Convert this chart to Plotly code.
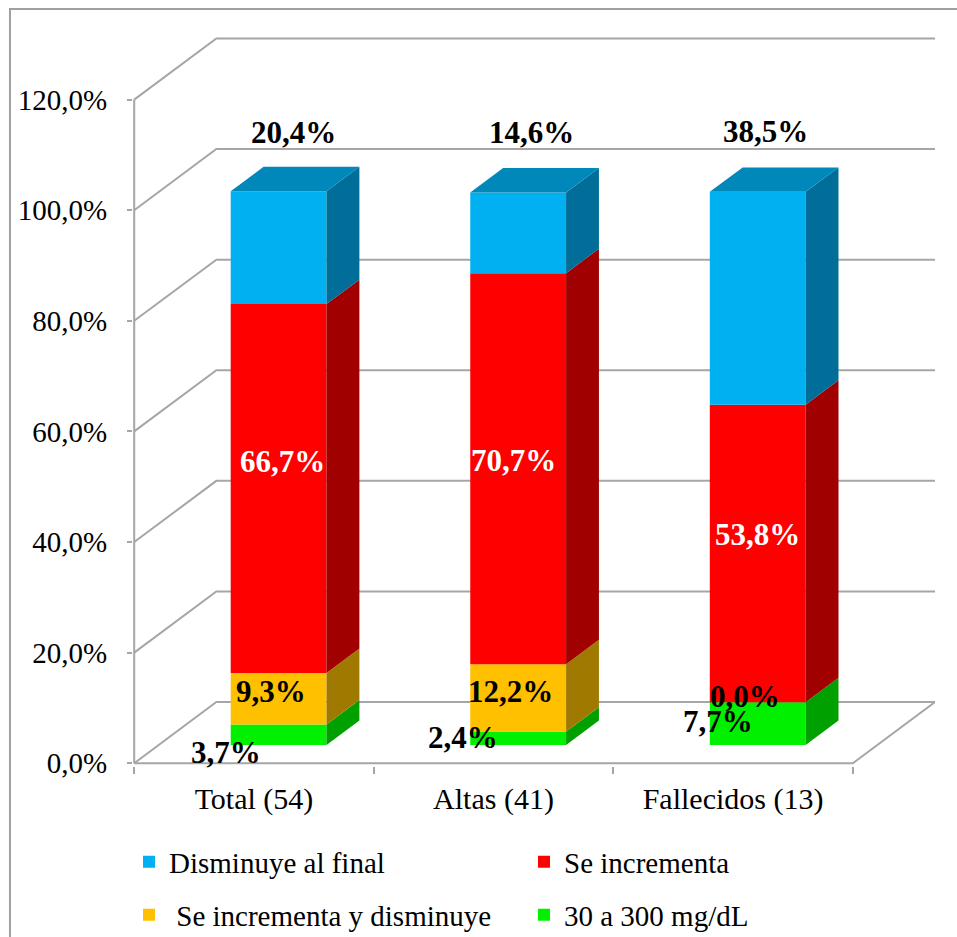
import plotly.graph_objects as go

# ---------------- data ----------------
categories = ["Total (54)", "Altas (41)", "Fallecidos (13)"]
series_names = ["30 a 300 mg/dL", " Se incrementa y disminuye", "Se incrementa", "Disminuye al final"]
green_vals = [3.7, 2.4, 7.7]
yellow_vals = [9.3, 12.2, 0.0]
red_vals = [66.7, 70.7, 53.8]
blue_vals = [20.4, 14.6, 38.5]
y_ticks = [0, 20, 40, 60, 80, 100, 120]
y_tick_text = [f"{v:.1f}".replace(".", ",") + "%" for v in y_ticks]

# ---------------- styles ----------------
front_cols = ["#00F000", "#FFC000", "#FF0000", "#00B0F0"]
side_cols = ["#00A000", "#A07A00", "#A00000", "#006E98"]
top_cols = ["#00C800", "#C89800", "#C80000", "#0088BA"]
label_cols = ["black", "black", "white", "black"]

# label placement (offset from category centre, y in axis units)
label_dx = [[-0.116, -0.129, -0.062], [0.071, 0.071, 0.051],
            [0.117, 0.084, 0.101], [0.163, 0.159, 0.134]]
label_y = [[2.0, 4.7, 7.5], [12.9, 12.9, 12.0],
           [54.5, 54.8, 41.3], [114.0, 114.0, 114.3]]

DX = 0.343   # depth projection in x units
DY = 11.06   # depth projection in y units
Z0, Z1 = 0.3, 0.7   # bar depth extent
W = 0.4      # bar width
GRID = "#A6A6A6"
FONT = "Liberation Serif, Times New Roman, serif"

series = [green_vals, yellow_vals, red_vals, blue_vals]

fig = go.Figure()

# ---------------- walls & grid ----------------
gx, gy = [], []
for v in y_ticks:
    gx += [-0.5, -0.5 + DX, 2.5 + DX, None]
    gy += [v, v + DY, v + DY, None]
# floor front and right edges
gx += [-0.5, 2.5, 2.5 + DX, None]
gy += [0, 0, DY, None]
# front vertical axis line
gx += [-0.5, -0.5, None]
gy += [0, max(y_ticks), None]
fig.add_trace(go.Scatter(x=gx, y=gy, mode="lines", line=dict(color=GRID, width=2),
                         hoverinfo="skip", showlegend=False))

# ---------------- bars ----------------
for s, vals in enumerate(series):
    fx, fy, sx, sy, tx, ty = [], [], [], [], [], []
    for i in range(len(categories)):
        base = sum(series[k][i] for k in range(s))
        top = base + vals[i]
        if vals[i] <= 0:
            continue
        xl, xr = i - W / 2, i + W / 2
        # front face
        fx += [xl + Z0 * DX, xr + Z0 * DX, xr + Z0 * DX, xl + Z0 * DX, xl + Z0 * DX, None]
        fy += [base + Z0 * DY, base + Z0 * DY, top + Z0 * DY, top + Z0 * DY, base + Z0 * DY, None]
        # side face
        sx += [xr + Z0 * DX, xr + Z1 * DX, xr + Z1 * DX, xr + Z0 * DX, xr + Z0 * DX, None]
        sy += [base + Z0 * DY, base + Z1 * DY, top + Z1 * DY, top + Z0 * DY, base + Z0 * DY, None]
        # top face for top-most visible segment
        above = sum(series[k][i] for k in range(s + 1, len(series)))
        if above <= 0:
            tx += [xl + Z0 * DX, xr + Z0 * DX, xr + Z1 * DX, xl + Z1 * DX, xl + Z0 * DX, None]
            ty += [top + Z0 * DY, top + Z0 * DY, top + Z1 * DY, top + Z1 * DY, top + Z0 * DY, None]
    for px, py, col in [(fx, fy, front_cols[s]), (sx, sy, side_cols[s]), (tx, ty, top_cols[s])]:
        if px:
            fig.add_trace(go.Scatter(x=px, y=py, mode="lines", fill="toself", fillcolor=col,
                                     line=dict(width=0, color=col), hoverinfo="skip",
                                     showlegend=False))

# ---------------- data labels ----------------
for s, vals in enumerate(series):
    for i, v in enumerate(vals):
        txt = f"{v:.1f}".replace(".", ",") + "%"
        fig.add_annotation(x=i + label_dx[s][i], y=label_y[s][i], text=f"<b>{txt}</b>",
                           showarrow=False, xanchor="center", yanchor="middle",
                           font=dict(family=FONT, size=31, color=label_cols[s]))

# ---------------- legend entries ----------------
legend_order = [(3, "legend"), (2, "legend"), (1, "legend2"), (0, "legend2")]
for s, lg in legend_order:
    fig.add_trace(go.Scatter(x=[None], y=[None], mode="markers", name=series_names[s],
                             marker=dict(symbol="square", size=12, color=front_cols[s]),
                             legend=lg, showlegend=True))

legend_common = dict(orientation="h", xanchor="left", yanchor="middle",
                     xref="container", yref="container",
                     entrywidth=350, entrywidthmode="pixels", itemwidth=30,
                     font=dict(family=FONT, size=29, color="black"),
                     bgcolor="rgba(0,0,0,0)", tracegroupgap=0)

fig.update_layout(
    width=957, height=937,
    margin=dict(l=133, r=22, t=36, b=171, autoexpand=False),
    paper_bgcolor="white", plot_bgcolor="white",
    separators=",.",
    showlegend=True,
    legend=dict(x=129 / 957, y=1 - 862 / 937, **legend_common),
    legend2=dict(x=129 / 957, y=1 - 915 / 937, **legend_common),
    xaxis=dict(range=[-0.505, 2.5 + DX], tickvals=[0, 1, 2], ticktext=categories,
               showgrid=False, zeroline=False, showline=False, ticks="",
               ticklabelstandoff=12,
               tickfont=dict(family=FONT, size=30, color="black"),
               minor=dict(tickvals=[-0.5, 0.5, 1.5, 2.5], ticks="outside", ticklen=7,
                          tickcolor=GRID, tickwidth=2)),
    yaxis=dict(range=[-0.5, 131.5], tickvals=y_ticks, ticktext=y_tick_text,
               showgrid=False, zeroline=False, showline=False, ticks="outside",
               ticklen=5, tickcolor=GRID, tickwidth=2, ticklabelstandoff=14,
               tickfont=dict(family=FONT, size=29, color="black")),
    shapes=[dict(type="rect", xref="paper", yref="paper",
                 x0=-0.1534, x1=1.2, y0=-0.4, y1=1.037,
                 line=dict(color="#A0A0A0", width=2), fillcolor="rgba(0,0,0,0)", layer="below")],
)

fig.write_html("out.html")
